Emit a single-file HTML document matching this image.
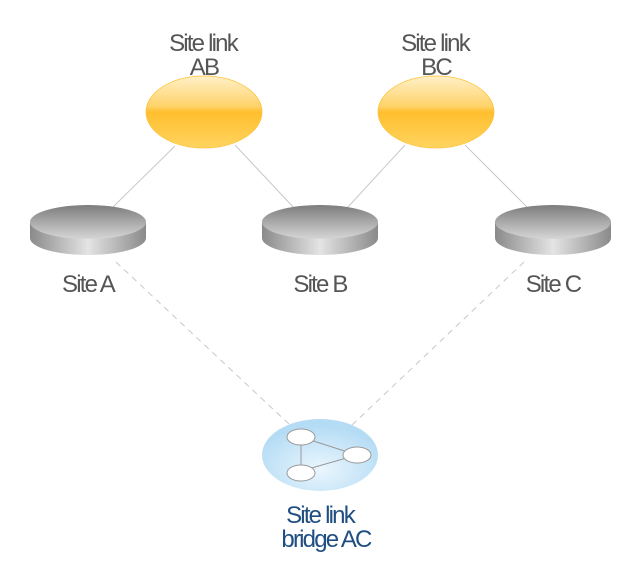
<!DOCTYPE html>
<html><head><style>
body{margin:0;background:#fff;}
svg{display:block}
text{font-family:"Liberation Sans",sans-serif;font-size:24px;letter-spacing:-1.8px;text-anchor:middle}
</style></head><body>
<svg width="640" height="571" viewBox="0 0 640 571">
<defs>
<linearGradient id="og" x1="0" y1="0" x2="0" y2="1">
<stop offset="0" stop-color="#fff0c8"/><stop offset="0.42" stop-color="#ffd36a"/><stop offset="0.5" stop-color="#ffbe2e"/><stop offset="1" stop-color="#ffd460"/>
</linearGradient>
<linearGradient id="side" x1="0" y1="0" x2="1" y2="0">
<stop offset="0" stop-color="#8a8a8a"/><stop offset="0.5" stop-color="#e4e4e4"/><stop offset="1" stop-color="#8a8a8a"/>
</linearGradient>
<linearGradient id="top" x1="0" y1="0" x2="0" y2="1">
<stop offset="0" stop-color="#7d7d7d"/><stop offset="1" stop-color="#d6d6d6"/>
</linearGradient>
<radialGradient id="bg" cx="0.5" cy="0.7" r="0.6">
<stop offset="0" stop-color="#eaf6fd"/><stop offset="1" stop-color="#b5dcf5"/>
</radialGradient>
<g id="disk">
<path d="M-58,-14 L-58,2 A58,17 0 0 0 58,2 L58,-14 Z" fill="url(#side)"/>
<ellipse cx="0" cy="-14" rx="58" ry="17" fill="url(#top)"/>
</g>
</defs>
<g stroke="#c8c8c8" stroke-width="1">
<line x1="175" y1="146" x2="113" y2="207"/>
<line x1="235" y1="145" x2="295" y2="209"/>
<line x1="405" y1="145" x2="347" y2="208"/>
<line x1="465" y1="145" x2="527" y2="207"/>
</g>
<g stroke="#c8c8c8" stroke-width="1" stroke-dasharray="6,5">
<line x1="116" y1="262" x2="290" y2="425"/>
<line x1="524" y1="262" x2="352" y2="425"/>
</g>
<ellipse cx="204" cy="112" rx="58" ry="36" fill="url(#og)" stroke="#ffc23a" stroke-width="0.8"/>
<ellipse cx="436" cy="112" rx="58" ry="36" fill="url(#og)" stroke="#ffc23a" stroke-width="0.8"/>
<use href="#disk" x="88" y="236"/>
<use href="#disk" x="320" y="236"/>
<use href="#disk" x="553" y="236"/>
<ellipse cx="320" cy="455" rx="58" ry="36" fill="url(#bg)"/>
<g stroke="#999" stroke-width="1">
<line x1="301" y1="437" x2="301" y2="471"/>
<line x1="301" y1="437" x2="357" y2="455"/>
<line x1="301" y1="471" x2="357" y2="455"/>
<ellipse cx="301" cy="437" rx="14" ry="8" fill="#fff"/>
<ellipse cx="357" cy="455" rx="14" ry="8" fill="#fff"/>
<ellipse cx="301" cy="473" rx="14" ry="8" fill="#fff"/>
</g>
<g fill="#555">
<text x="203" y="51">Site link</text><text x="204" y="75">AB</text>
<text x="435" y="51">Site link</text><text x="436" y="75">BC</text>
<text x="88" y="292">Site A</text>
<text x="320" y="292">Site B</text>
<text x="553" y="292">Site C</text>
</g>
<g fill="#1f4e82">
<text x="320" y="523">Site link</text>
<text x="326" y="547">bridge AC</text>
</g>
</svg>
</body></html>
